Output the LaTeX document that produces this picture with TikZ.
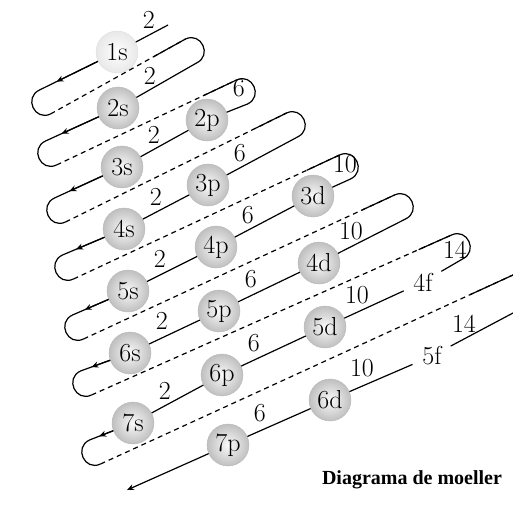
\documentclass[tikz,border=0pt]{standalone}
\usepackage{fontspec}
\usepackage{tikz}
\usetikzlibrary{arrows.meta, calc}
\newfontfamily\captionfont{Liberation Serif}
\tikzstyle{orbital} = [circle, minimum size=42pt, inner sep=0pt, draw=gray!55, thin, shading=radial, inner color=gray!4, outer color=gray!50, font=\fontsize{26}{26}\selectfont]
\tikzstyle{bare} = [circle, minimum size=42pt, inner sep=0pt, font=\fontsize{26}{26}\selectfont]
\tikzstyle{num} = [anchor=center, label distance=24pt, font=\fontsize{26}{26}\selectfont]
\tikzstyle{spiral} = [line width=1.2pt]
\tikzstyle{back} = [spiral, dash pattern=on 5pt off 4pt]
\tikzstyle{arrow} = [spiral, ->, >={Stealth[length=7pt, width=6pt]}]
\begin{document}
\begin{tikzpicture}[x=1pt, y=1pt]
\useasboundingbox (0,0) rectangle (513,-504);

% orbitals
\node (o1s) [orbital, draw=gray!25, inner color=white, outer color=gray!18, label={[num]45:2}] at (117,-52) {1s};
\node (o2s) [orbital, label={[num]45:2}] at (118,-108) {2s};
\node (o2p) [orbital, label={[num]45:6}] at (207,-120) {2p};
\node (o3s) [orbital, label={[num]45:2}] at (122,-167) {3s};
\node (o3p) [orbital, label={[num]45:6}] at (208,-185) {3p};
\node (o3d) [orbital, label={[num]45:10}] at (313,-196) {3d};
\node (o4s) [orbital, label={[num]45:2}] at (124,-229) {4s};
\node (o4p) [orbital, label={[num]45:6}] at (216,-247) {4p};
\node (o4d) [orbital, label={[num]45:10}] at (319,-263) {4d};
\node (o4f) [bare, label={[num]45:14}] at (423,-282) {4f};
\node (o5s) [orbital, label={[num]45:2}] at (128,-291) {5s};
\node (o5p) [orbital, label={[num]45:6}] at (219,-311) {5p};
\node (o5d) [orbital, label={[num]45:10}] at (325,-327) {5d};
\node (o5f) [bare, label={[num]45:14}] at (432,-356) {5f};
\node (o6s) [orbital, label={[num]45:2}] at (130,-353) {6s};
\node (o6p) [orbital, label={[num]45:6}] at (222,-375) {6p};
\node (o6d) [orbital, label={[num]45:10}] at (330,-400) {6d};
\node (o7s) [orbital, label={[num]45:2}] at (133,-423) {7s};
\node (o7p) [orbital, label={[num]45:6}] at (228,-445) {7p};

\node (title) at (412,-480) {\captionfont\bfseries\fontsize{20}{20}\selectfont Diagrama de moeller};

% turning points
\coordinate (top) at (168,-25);
\coordinate (t1) at (39.5,-90);  \coordinate (b1) at (50.5,-114);
\coordinate (t2) at (45.5,-141); \coordinate (b2) at (56.5,-165);
\coordinate (t3) at (54.5,-198); \coordinate (b3) at (65.5,-222);
\coordinate (t4) at (62.5,-255); \coordinate (b4) at (73.5,-279);
\coordinate (t5) at (72.5,-315); \coordinate (b5) at (83.5,-339);
\coordinate (t6) at (80.5,-371); \coordinate (b6) at (91.5,-395);
\coordinate (t7) at (89.5,-440); \coordinate (b7) at (100.5,-464);
\coordinate (u1) at (185.5,-39);  \coordinate (v1) at (196.5,-63);
\coordinate (u2) at (236.5,-80);  \coordinate (v2) at (247.5,-104);
\coordinate (u3) at (286.5,-113); \coordinate (v3) at (297.5,-137);
\coordinate (u4) at (339.5,-155); \coordinate (v4) at (350.5,-179);
\coordinate (u5) at (394.5,-195); \coordinate (v5) at (405.5,-219);
\coordinate (u6) at (451.5,-235); \coordinate (v6) at (462.5,-259);
\coordinate (e7) at (513,-275);
\coordinate (e8) at (513,-313);
\coordinate (tip) at (127,-490);

% runs down the diagonals
\draw [spiral] (top) -- (o1s) -- (t1) to[out=205, in=205, looseness=1.7] (b1);
\draw [spiral] ($(u1)!36pt!(b1)$) -- (u1) to[out=25, in=25, looseness=1.7] (v1) -- (o2s) -- (t2) to[out=205, in=205, looseness=1.7] (b2);
\draw [spiral] ($(u2)!36pt!(b2)$) -- (u2) to[out=25, in=25, looseness=1.7] (v2) -- (o2p) -- (o3s) -- (t3) to[out=205, in=205, looseness=1.7] (b3);
\draw [spiral] ($(u3)!36pt!(b3)$) -- (u3) to[out=25, in=25, looseness=1.7] (v3) -- (o3p) -- (o4s) -- (t4) to[out=205, in=205, looseness=1.7] (b4);
\draw [spiral] ($(u4)!36pt!(b4)$) -- (u4) to[out=25, in=25, looseness=1.7] (v4) -- (o3d) -- (o4p) -- (o5s) -- (t5) to[out=205, in=205, looseness=1.7] (b5);
\draw [spiral] ($(u5)!36pt!(b5)$) -- (u5) to[out=25, in=25, looseness=1.7] (v5) -- (o4d) -- (o5p) -- (o6s) -- (t6) to[out=205, in=205, looseness=1.7] (b6);
\draw [spiral] ($(u6)!36pt!(b6)$) -- (u6) to[out=25, in=25, looseness=1.7] (v6) -- (o4f) -- (o5d) -- (o6p) -- (o7s) -- (t7) to[out=205, in=205, looseness=1.7] (b7);
\draw [spiral] ($(e7)!47pt!(b7)$) -- (e7);
\draw [arrow] (e8) -- (o5f) -- (o6d) -- (o7p) -- (tip);

% dashed runs back up
\draw [back] (b1) -- (u1);
\draw [back] (b2) -- (u2);
\draw [back] (b3) -- (u3);
\draw [back] (b4) -- (u4);
\draw [back] (b5) -- (u5);
\draw [back] (b6) -- (u6);
\draw [back] (b7) -- (e7);

% heads on the way down
\draw [arrow] (o1s) -- ($(o1s)!0.78!(t1)$);
\draw [arrow] (o2s) -- ($(o2s)!0.78!(t2)$);
\draw [arrow] (o3s) -- ($(o3s)!0.78!(t3)$);
\draw [arrow] (o4s) -- ($(o4s)!0.78!(t4)$);
\draw [arrow] (o5s) -- ($(o5s)!0.78!(t5)$);
\draw [arrow] (o6s) -- ($(o6s)!0.78!(t6)$);
\draw [arrow] (o7s) -- ($(o7s)!0.78!(t7)$);
\end{tikzpicture}
\end{document}
